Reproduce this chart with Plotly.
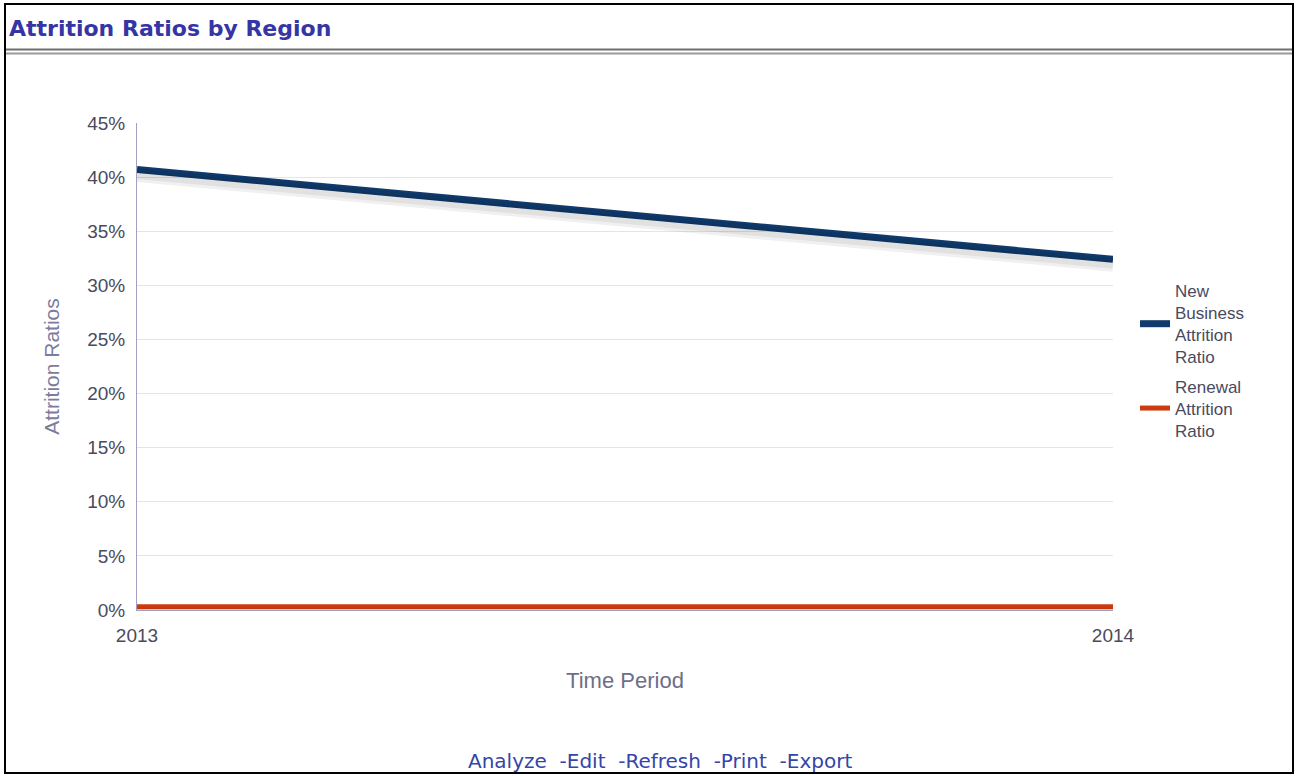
import plotly.graph_objects as go

years = [2013, 2014]
year_labels = ["2013", "2014"]
new_business = [40.7, 32.4]
renewal = [0.3, 0.3]
series_names = ["New<br>Business<br>Attrition<br>Ratio", "Renewal<br>Attrition<br>Ratio"]
y_ticks = [0, 5, 10, 15, 20, 25, 30, 35, 40, 45]
y_tick_labels = [f"{v}%" for v in y_ticks]
title_text = "Attrition Ratios by Region"
links_text = "Analyze&nbsp;&nbsp;-Edit&nbsp;&nbsp;-Refresh&nbsp;&nbsp;-Print&nbsp;&nbsp;-Export"

W, H = 1297, 776
L, R, T, B = 137, 1113, 123, 610
pw, ph = R - L, B - T


def px(x):
    return (x - L) / pw


def py(y):
    return (B - y) / ph


fig = go.Figure()
# soft shadows (same data, drawn on a slightly shifted overlay axis)
fig.add_trace(go.Scatter(x=years, y=new_business, mode="lines", yaxis="y2",
                         line=dict(color="rgba(0,0,0,0.06)", width=14),
                         showlegend=False, hoverinfo="skip"))
fig.add_trace(go.Scatter(x=years, y=new_business, mode="lines", yaxis="y2",
                         line=dict(color="rgba(0,0,0,0.06)", width=8),
                         showlegend=False, hoverinfo="skip"))
fig.add_trace(go.Scatter(x=years, y=renewal, mode="lines", yaxis="y2",
                         line=dict(color="rgba(0,0,0,0.04)", width=10),
                         showlegend=False, hoverinfo="skip"))
fig.add_trace(go.Scatter(x=years, y=new_business, mode="lines", name=series_names[0],
                         line=dict(color="#0f3a6b", width=7), legendgroup="a"))
fig.add_trace(go.Scatter(x=years, y=renewal, mode="lines", name=series_names[1],
                         line=dict(color="#cc3a0e", width=5), legendgroup="b"))

axis_font = dict(family="Liberation Sans, Arial", size=19, color="#4a4a5e")
title_font_family = "Liberation Sans, Arial"
fig.update_layout(
    width=W, height=H,
    margin=dict(l=L, r=W - R, t=T, b=H - B, pad=0),
    paper_bgcolor="white", plot_bgcolor="white",
    xaxis=dict(range=[years[0], years[-1]], tickvals=years, ticktext=year_labels,
               showgrid=False, zeroline=False, showline=True, linecolor="#a0a0c0", linewidth=1,
               ticks="outside", ticklen=8, tickcolor="rgba(0,0,0,0)",
               tickfont=axis_font,
               title=dict(text="Time Period", standoff=27,
                          font=dict(family=title_font_family, size=22, color="#6e6e88"))),
    yaxis=dict(range=[0, 45], tickvals=y_ticks, ticktext=y_tick_labels,
               showgrid=True, gridcolor="#dde6ef", gridwidth=1, zeroline=False,
               showline=True, linecolor="#a0a0c0", linewidth=1,
               ticks="outside", ticklen=7, tickcolor="rgba(0,0,0,0)",
               tickfont=axis_font,
               title=dict(text="Attrition Ratios", standoff=21,
                          font=dict(family=title_font_family, size=21, color="#7c7c9c"))),
    yaxis2=dict(range=[0.5, 45.5], overlaying="y", visible=False),
    legend=dict(x=px(1135), y=py(273), xanchor="left", yanchor="top",
                font=dict(family="Liberation Sans, Arial", size=17, color="#4a4a5e"),
                itemwidth=30, tracegroupgap=4, traceorder="grouped",
                bgcolor="rgba(0,0,0,0)"),
    showlegend=True,
    annotations=[
        dict(text="<b>" + title_text + "</b>", xref="paper", yref="paper",
             x=px(7), y=py(29), xanchor="left", yanchor="middle", showarrow=False,
             font=dict(family="DejaVu Sans", size=22, color="#3535a5")),
        dict(text=links_text, xref="paper", yref="paper",
             x=px(660), y=py(761), xanchor="center", yanchor="middle", showarrow=False,
             font=dict(family="DejaVu Sans", size=20, color="#3545a8")),
    ],
    shapes=[
        dict(type="rect", xref="paper", yref="paper", x0=px(5), x1=px(1293), y0=py(773), y1=py(4),
             line=dict(color="black", width=2), layer="below"),
        dict(type="line", xref="paper", yref="paper", x0=px(6), x1=px(1292), y0=py(49.5), y1=py(49.5),
             line=dict(color="#6f6f6f", width=2)),
        dict(type="line", xref="paper", yref="paper", x0=px(6), x1=px(1292), y0=py(53.5), y1=py(53.5),
             line=dict(color="#9a9a9a", width=2)),
    ],
)

fig.write_html("out.html", config={"displayModeBar": False},
               post_script="document.body.style.margin='0';")
